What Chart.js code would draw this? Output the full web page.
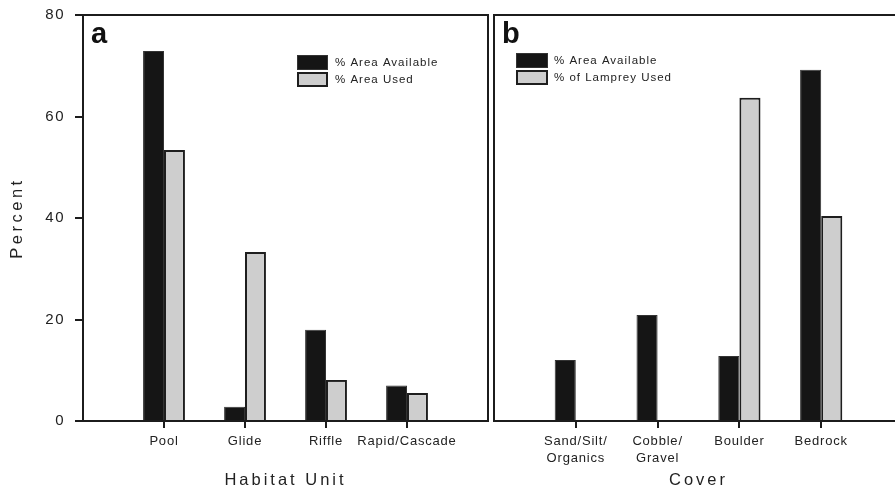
<!DOCTYPE html>
<html><head><meta charset="utf-8">
<script src="https://cdn.jsdelivr.net/npm/chart.js@4/dist/chart.umd.min.js"></script>
<style>
html,body{margin:0;padding:0;background:#fff;overflow:hidden;}
#wrap{position:relative;width:895px;height:490px;overflow:hidden;background:#fff;}
#ca{position:absolute;left:0;top:0;}
#cb{position:absolute;left:491px;top:0;}
</style></head><body>
<div id="wrap"><canvas id="ca" width="490" height="490"></canvas><canvas id="cb" width="416" height="490"></canvas></div>
<script>
// ---- data ----
const habitatCategories = ['Pool', 'Glide', 'Riffle', 'Rapid/Cascade'];
const habitatAvailable = [72.9, 2.8, 18.0, 7.0];
const habitatUsed = [53.4, 33.3, 8.1, 5.5];

const coverCategories = [['Sand/Silt/', 'Organics'], ['Cobble/', 'Gravel'], 'Boulder', 'Bedrock'];
const coverAvailable = [12.0, 20.9, 12.8, 69.2];
const lampreyUsed = [null, null, 63.7, 40.4];

const yTickValues = [0, 20, 40, 60, 80];
const categoryPositions = [1, 2, 3, 4];

const legendA = ['% Area Available', '% Area Used'];
const legendB = ['% Area Available', '% of Lamprey Used'];

// ---- styles ----
const FONT = "'Liberation Sans', Arial, Helvetica, sans-serif";
const INK = '#1c1c1c';
const DARK = '#151515';
const GRAY = '#cecece';

function toPoints(vals) { return vals.map((v, i) => ({ x: categoryPositions[i], y: v })); }

const spacingPlugin = {
  id: 'spacing',
  beforeDraw(chart, args, opts) {
    Object.values(chart.scales).forEach(s => {
      if (s._spWrapped) return;
      s._spWrapped = true;
      const cfg = (opts && opts[s.id]) || {};
      const oT = s.drawTitle.bind(s), oL = s.drawLabels.bind(s);
      s.drawTitle = function () { const c = this.ctx; c.save(); c.letterSpacing = cfg.title || '0px'; oT(); c.restore(); };
      s.drawLabels = function (a) { const c = this.ctx; c.save(); c.letterSpacing = cfg.ticks || '0px'; oL(a); c.restore(); };
    });
  }
};

const framePlugin = {
  id: 'frame',
  afterDraw(chart) {
    const { ctx, chartArea: a } = chart;
    ctx.save();
    ctx.strokeStyle = INK;
    ctx.lineWidth = 2;
    ctx.strokeRect(a.left, a.top, a.right - a.left, a.bottom - a.top);
    ctx.restore();
  }
};

const panelLegendPlugin = {
  id: 'panelLegend',
  afterDraw(chart, args, o) {
    const ctx = chart.ctx;
    ctx.save();
    ctx.font = "bold 29px " + FONT;
    ctx.fillStyle = '#111';
    ctx.textBaseline = 'alphabetic';
    ctx.textAlign = 'left';
    ctx.fillText(o.letter, o.letterX, o.letterY);
    ctx.font = "11.5px " + FONT;
    ctx.letterSpacing = '1px';
    ctx.textBaseline = 'middle';
    chart.data.datasets.forEach((ds, i) => {
      const bx = o.boxX, by = o.boxY[i], bw = o.boxW, bh = o.boxH;
      ctx.fillStyle = ds.backgroundColor;
      ctx.fillRect(bx, by, bw, bh);
      ctx.strokeStyle = ds.borderColor;
      ctx.lineWidth = ds.borderWidth;
      ctx.strokeRect(bx + ds.borderWidth / 2, by + ds.borderWidth / 2, bw - ds.borderWidth, bh - ds.borderWidth);
      ctx.fillStyle = '#222';
      ctx.fillText(o.labels[i], o.textX, by + bh / 2 + 0.5);
    });
    ctx.restore();
  }
};

function makeChart(canvasId, cats, avail, used, legendLabels, cfg) {
  return new Chart(document.getElementById(canvasId), {
    type: 'bar',
    data: {
      datasets: [
        { label: legendLabels[0], data: toPoints(avail), backgroundColor: DARK, borderColor: '#333', borderWidth: 1 },
        { label: legendLabels[1], data: toPoints(used), backgroundColor: GRAY, borderColor: '#1e1e1e', borderWidth: 2 }
      ]
    },
    options: {
      responsive: false,
      devicePixelRatio: 1,
      animation: false,
      layout: { padding: cfg.padding },
      categoryPercentage: 0.516,
      barPercentage: 1,
      plugins: {
        legend: { display: false },
        tooltip: { enabled: false },
        spacing: { x: { ticks: '0.8px', title: '3px' }, y: { ticks: '1.5px', title: '3.5px' } },
        panelLegend: cfg.legend
      },
      scales: {
        x: {
          type: 'linear', min: 0, max: 5, offset: false,
          afterBuildTicks: s => { s.ticks = categoryPositions.map(v => ({ value: v })); },
          afterFit: s => { s.height = 69; s.paddingLeft = 0; s.paddingRight = 0; },
          grid: { offset: false, drawOnChartArea: false, drawTicks: true, tickLength: 7, lineWidth: 2, color: INK },
          border: { display: true, color: INK, width: 2 },
          ticks: {
            autoSkip: false, maxRotation: 0, minRotation: 0, padding: 5, color: '#222',
            font: { family: FONT, size: 13, lineHeight: 1.3 },
            callback: v => cats[v - 1]
          },
          title: { display: true, text: cfg.xTitle, color: '#222', padding: { top: 0, bottom: 0 },
                   font: { family: FONT, size: 16.5, lineHeight: 1.2 } }
        },
        y: {
          display: cfg.showY,
          min: 0, max: 80,
          afterBuildTicks: s => { s.ticks = yTickValues.map(v => ({ value: v })); },
          afterFit: s => { if (cfg.showY) s.width = 83; s.paddingTop = 0; s.paddingBottom = 0; },
          grid: { drawOnChartArea: false, drawTicks: true, tickLength: 8, lineWidth: 2, color: INK },
          border: { display: true, color: INK, width: 2 },
          ticks: { padding: 10, color: '#222', font: { family: FONT, size: 15 } },
          title: { display: true, text: 'Percent', color: '#222', padding: { top: 8, bottom: 0 },
                   font: { family: FONT, size: 16.5, lineHeight: 1.2 } }
        }
      }
    },
    plugins: [spacingPlugin, framePlugin, panelLegendPlugin]
  });
}

makeChart('ca', habitatCategories, habitatAvailable, habitatUsed, legendA, {
  padding: { top: 15, right: 2, left: 0, bottom: 0 },
  xTitle: 'Habitat Unit',
  showY: true,
  legend: { letter: 'a', letterX: 91, letterY: 43, boxX: 297, boxY: [55, 72], boxW: 31, boxH: 15, textX: 335, labels: legendA }
});

makeChart('cb', coverCategories, coverAvailable, lampreyUsed, legendB, {
  padding: { top: 15, right: 4, left: 3, bottom: 0 },
  xTitle: 'Cover',
  showY: false,
  legend: { letter: 'b', letterX: 11, letterY: 43, boxX: 25, boxY: [53, 70], boxW: 32, boxH: 15, textX: 63, labels: legendB }
});
</script>
</body></html>
